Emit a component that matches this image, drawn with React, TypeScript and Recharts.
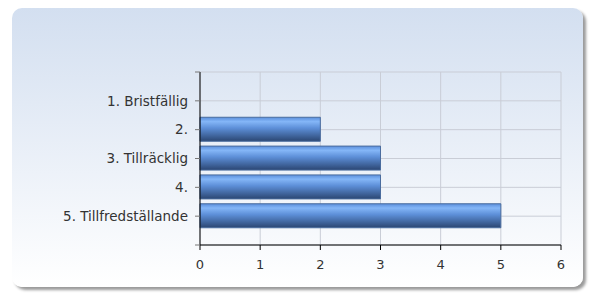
import { BarChart, Bar, XAxis, YAxis, CartesianGrid } from 'recharts';

const categories = ['1. Bristfällig', '2.', '3. Tillräcklig', '4.', '5. Tillfredställande'];
const counts = [0, 2, 3, 3, 5];
const xTicks = [0, 1, 2, 3, 4, 5, 6];
const rowTicks = [0, 1, 2, 3, 4, 5, 6];

const data = categories.map((name, i) => ({ row: i + 1, name, count: counts[i] }));

export default function App() {
  return (
    <div style={{ position: 'absolute', left: 0, top: 0, width: 594, height: 293, background: '#fff' }}>
      <div
        style={{
          position: 'absolute',
          left: 12,
          top: 8,
          width: 571,
          height: 279,
          borderRadius: 10,
          background: 'linear-gradient(#d3dff0, #ffffff)',
          boxShadow: '3px 3px 3px rgba(0,0,0,0.4)',
        }}
      />
      <div style={{ position: 'absolute', left: 0, top: 0 }}>
        <BarChart
          width={594}
          height={293}
          data={data}
          layout="vertical"
          margin={{ top: 72, right: 33, left: 10, bottom: 18 }}
        >
          <defs>
            <linearGradient id="barFill" x1="0" y1="0" x2="0" y2="1">
              <stop offset="0%" stopColor="#5b8fdc" />
              <stop offset="18%" stopColor="#84b6f7" />
              <stop offset="45%" stopColor="#5d8fd8" />
              <stop offset="100%" stopColor="#2b4672" />
            </linearGradient>
          </defs>
          <CartesianGrid stroke="#c9cdd6" />
          <XAxis
            type="number"
            domain={[0, 6]}
            ticks={xTicks}
            height={30}
            axisLine={{ stroke: '#000' }}
            tickLine={{ stroke: '#000' }}
            tickSize={5}
            tickMargin={10}
            tick={{ fill: '#333', fontSize: 13, fontFamily: 'DejaVu Sans' }}
          />
          <YAxis
            type="number"
            dataKey="row"
            domain={[0, 6]}
            ticks={rowTicks}
            width={190}
            axisLine={{ stroke: '#000' }}
            tickLine={{ stroke: '#777' }}
            tickSize={5}
            tickMargin={7}
            tickFormatter={(v: number) => categories[v - 1] ?? ''}
            tick={{ fill: '#333', fontSize: 13.5, fontFamily: 'DejaVu Sans' }}
          />
          <Bar
            dataKey="count"
            barSize={24}
            fill="url(#barFill)"
            stroke="#4a6c9e"
            strokeWidth={1}
            isAnimationActive={false}
          />
        </BarChart>
      </div>
    </div>
  );
}
